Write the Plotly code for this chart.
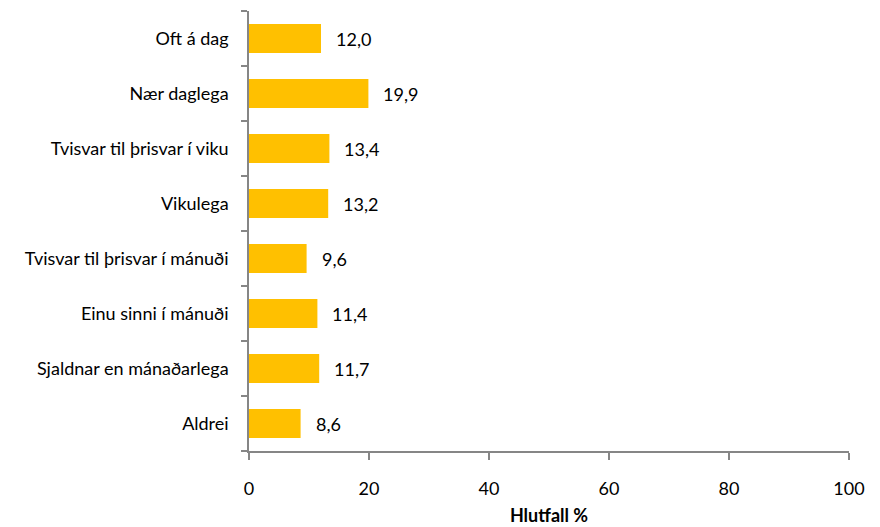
import plotly.graph_objects as go

categories = ["Oft á dag", "Nær daglega", "Tvisvar til þrisvar í viku", "Vikulega",
              "Tvisvar til þrisvar í mánuði", "Einu sinni í mánuði",
              "Sjaldnar en mánaðarlega", "Aldrei"]
values = [12.0, 19.9, 13.4, 13.2, 9.6, 11.4, 11.7, 8.6]
x_ticks = [0, 20, 40, 60, 80, 100]

labels = [f"{v:.1f}".replace(".", ",") for v in values]
font = "Lato, Open Sans, sans-serif"

fig = go.Figure(go.Bar(
    x=values, y=categories, orientation="h",
    marker=dict(color="#FFC000", line=dict(width=0)),
    hoverinfo="skip",
))

for c, v, t in zip(categories, values, labels):
    fig.add_annotation(x=v, y=c, text=t, showarrow=False, xanchor="left",
                       xshift=13, font=dict(family=font, size=18, color="#000000"))

fig.update_layout(
    width=880, height=527,
    margin=dict(l=249, r=31, t=11, b=76),
    paper_bgcolor="white", plot_bgcolor="white",
    bargap=0.47, showlegend=False,
    font=dict(family=font, size=18, color="#000000"),
)
fig.update_yaxes(
    categoryorder="array", categoryarray=categories[::-1],
    showline=True, linecolor="#868686", linewidth=1.5,
    ticks="outside", ticklen=6, tickcolor="#868686", tickwidth=1.5,
    tickson="boundaries", ticklabelstandoff=15, automargin=False,
    showgrid=False, zeroline=False,
)
fig.update_xaxes(
    range=[0, 100], tickvals=x_ticks, ticktext=[str(t) for t in x_ticks],
    showline=True, linecolor="#868686", linewidth=1.5,
    ticks="outside", ticklen=7, tickcolor="#868686", tickwidth=1.5,
    ticklabelstandoff=14, automargin=False,
    showgrid=False, zeroline=False,
    title=dict(text="<b>Hlutfall %</b>", font=dict(size=18), standoff=11),
)

fig.write_html("out.html", config={"displayModeBar": False},
               post_script="document.body.style.margin='0';")
